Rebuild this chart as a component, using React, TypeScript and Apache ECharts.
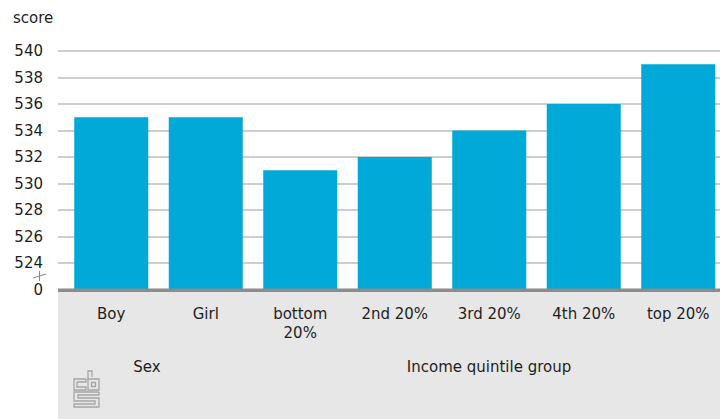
import React, { useEffect, useRef } from "react";
import * as echarts from "echarts";

const categories = ["Boy", "Girl", "bottom\n20%", "2nd 20%", "3rd 20%", "4th 20%", "top 20%"];
const scores = [535, 535, 531, 532, 534, 536, 539];
const groupLabels = ["Sex", "Income quintile group"];
const yMin = 522;
const yMax = 540;
const yStep = 2;
const yTitle = "score";

const FONT = "'DejaVu Sans', sans-serif";
const FS = 15;
const TEXT = "#1e1e1e";

export default function App() {
  const ref = useRef<HTMLDivElement>(null);
  useEffect(() => {
    if (!ref.current) return;
    const chart = echarts.init(ref.current, undefined, { renderer: "svg" });
    const top = 51;
    const height = 238.5;
    chart.setOption({
      animation: false,
      grid: [
        { left: 58, width: 662, top, height, outerBoundsMode: "none", containLabel: false },
        { left: 64, width: 661.5, top, height, outerBoundsMode: "none", containLabel: false },
      ],
      xAxis: [
        { type: "category", gridIndex: 0, data: categories, show: false },
        {
          type: "category",
          gridIndex: 1,
          data: categories,
          axisLine: { show: false },
          axisTick: { show: false },
          axisLabel: {
            interval: 0,
            margin: 15,
            color: TEXT,
            fontFamily: FONT,
            fontSize: FS,
            lineHeight: 19,
            align: "center",
          },
        },
      ],
      yAxis: [
        {
          type: "value",
          gridIndex: 0,
          min: yMin,
          max: yMax,
          interval: yStep,
          axisLine: { show: false },
          axisTick: { show: false },
          splitLine: {
            lineStyle: { color: "#bdbdbd", width: 1.5 },
          },
          axisLabel: {
            margin: 15,
            color: TEXT,
            fontFamily: FONT,
            fontSize: FS,
            formatter: (v: number) => (v === yMin ? "0" : String(v)),
          },
        },
        {
          type: "value",
          gridIndex: 1,
          min: yMin,
          max: yMax,
          interval: yStep,
          show: false,
          splitLine: { show: false },
        },
      ],
      series: [
        {
          type: "bar",
          xAxisIndex: 1,
          yAxisIndex: 1,
          data: scores,
          barWidth: 74,
          itemStyle: { color: "#00a9d8" },
        },
      ],
      graphic: [
        {
          type: "rect",
          z: -100,
          shape: { x: 58, y: 289, width: 662, height: 130 },
          style: { fill: "#e7e7e7" },
        },
        {
          type: "rect",
          z: 100,
          shape: { x: 58, y: 288.5, width: 662, height: 3.5 },
          style: { fill: "#8c8c8c" },
        },
        {
          type: "text",
          x: 13,
          y: 18,
          style: {
            text: yTitle,
            fill: TEXT,
            font: `${FS}px ${FONT}`,
            verticalAlign: "middle",
          },
        },
        {
          type: "text",
          x: 147,
          y: 367,
          style: {
            text: groupLabels[0],
            fill: TEXT,
            font: `${FS}px ${FONT}`,
            align: "center",
            verticalAlign: "middle",
          },
        },
        {
          type: "text",
          x: 489,
          y: 367,
          style: {
            text: groupLabels[1],
            fill: TEXT,
            font: `${FS}px ${FONT}`,
            align: "center",
            verticalAlign: "middle",
          },
        },
        // axis break mark
        {
          type: "line",
          shape: { x1: 33, y1: 278, x2: 46, y2: 274 },
          style: { stroke: "#888", lineWidth: 1 },
        },
        {
          type: "line",
          shape: { x1: 39.5, y1: 271, x2: 39.5, y2: 281 },
          style: { stroke: "#888", lineWidth: 1 },
        },
        // logo
        {
          type: "group",
          x: 74,
          y: 371,
          children: [
            {
              type: "polyline",
              shape: { points: [[14, 8], [14, 0], [18, 0], [18, 6]] },
              style: { stroke: "#a5a5a5", lineWidth: 1.3, fill: "none" },
            },
            {
              type: "polyline",
              shape: { points: [[12, 8], [0, 8], [0, 19], [12, 19], [12, 16], [3, 16], [3, 11], [12, 11], [12, 8]] },
              style: { stroke: "#a5a5a5", lineWidth: 1.3, fill: "none" },
            },
            {
              type: "rect",
              shape: { x: 14, y: 8, width: 11, height: 11 },
              style: { stroke: "#a5a5a5", lineWidth: 1.3, fill: "none" },
            },
            {
              type: "rect",
              shape: { x: 17.5, y: 11.5, width: 4, height: 4 },
              style: { stroke: "#a5a5a5", lineWidth: 1.3, fill: "none" },
            },
            {
              type: "polyline",
              shape: {
                points: [
                  [25, 21], [0, 21], [0, 30], [21, 30], [21, 33], [0, 33], [0, 36],
                  [25, 36], [25, 27], [4, 27], [4, 24], [25, 24], [25, 21],
                ],
              },
              style: { stroke: "#a5a5a5", lineWidth: 1.3, fill: "none" },
            },
          ],
        },
      ],
    });
    return () => chart.dispose();
  }, []);
  return <div ref={ref} style={{ width: 720, height: 419, position: "absolute", left: 0, top: 0 }} />;
}
